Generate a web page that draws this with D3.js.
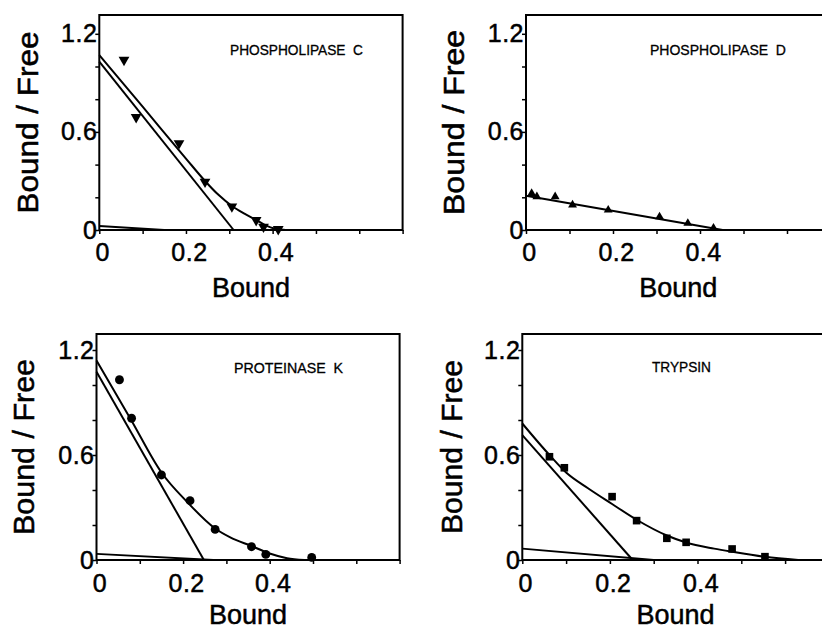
<!DOCTYPE html>
<html>
<head>
<meta charset="utf-8">
<script src="https://cdn.jsdelivr.net/npm/d3@7"></script>
<style>
  html, body { margin: 0; padding: 0; background: #fff; }
  svg { display: block; }
  text { font-family: "Liberation Sans", Arial, sans-serif; fill: #000; }
</style>
</head>
<body>
<svg id="chart" width="822" height="631"></svg>
<script>
"use strict";

// tick values shared by all four panels
const yTicks = [0, 0.2, 0.4, 0.6, 0.8, 1.0, 1.2];
const yLabels = [0, 0.6, 1.2];
const xTicks = [0, 0.1, 0.2, 0.3, 0.4, 0.5, 0.6, 0.7];
const xLabels = [0, 0.2, 0.4];
const xTitle = "Bound";
const yTitle = "Bound / Free";
const panelNames = ["PHOSPHOLIPASE  C", "PHOSPHOLIPASE  D", "PROTEINASE  K", "TRYPSIN"];

// Phospholipase C
const plcBound = [0.057, 0.085, 0.184, 0.244, 0.306, 0.362, 0.379, 0.413];
const plcRatio = [1.04, 0.69, 0.53, 0.295, 0.143, 0.06, 0.02, 0.005];
const plcCurveBound = [0, 0.1, 0.2, 0.244, 0.275, 0.306, 0.335, 0.362, 0.385, 0.41, 0.43];
const plcCurveRatio = [1.07, 0.754, 0.437, 0.3, 0.215, 0.147, 0.1, 0.062, 0.027, 0.006, 0];
const plcHighBound = [0, 0.31], plcHighRatio = [1.03, 0];
const plcLowBound = [0, 0.15], plcLowRatio = [0.025, 0];

// Phospholipase D
const pldBound = [0.013, 0.025, 0.067, 0.107, 0.189, 0.307, 0.372, 0.431];
const pldRatio = [0.224, 0.204, 0.204, 0.153, 0.122, 0.081, 0.041, 0.012];
const pldLineBound = [0, 0.452], pldLineRatio = [0.21, 0];

// Proteinase K
const pkBound = [0.053, 0.081, 0.15, 0.216, 0.274, 0.358, 0.391, 0.497];
const pkRatio = [1.03, 0.81, 0.486, 0.339, 0.175, 0.076, 0.032, 0.015];
const pkCurveBound = [0, 0.08, 0.15, 0.21, 0.274, 0.31, 0.358, 0.4, 0.44, 0.48];
const pkCurveRatio = [1.14, 0.8, 0.5, 0.33, 0.18, 0.128, 0.08, 0.037, 0.01, 0];
const pkHighBound = [0, 0.248], pkHighRatio = [1.076, 0];
const pkLowBound = [0, 0.27], pkLowRatio = [0.035, 0];

// Trypsin
const trBound = [0.062, 0.096, 0.205, 0.261, 0.33, 0.374, 0.479, 0.554];
const trRatio = [0.59, 0.527, 0.362, 0.225, 0.124, 0.101, 0.063, 0.019];
const trCurveBound = [0, 0.062, 0.1, 0.15, 0.205, 0.261, 0.33, 0.374, 0.438, 0.479, 0.554, 0.63];
const trCurveRatio = [0.78, 0.6, 0.5, 0.41, 0.32, 0.23, 0.14, 0.1, 0.065, 0.047, 0.018, 0];
const trHighBound = [0, 0.252], trHighRatio = [0.714, 0];
const trLowBound = [0, 0.3], trLowRatio = [0.065, 0];

const zip = (xs, ys) => xs.map((x, i) => [x, ys[i]]);

const panels = [
  { name: panelNames[0], marker: "down",
    points: zip(plcBound, plcRatio),
    curves: [zip(plcCurveBound, plcCurveRatio)],
    lines: [zip(plcHighBound, plcHighRatio), zip(plcLowBound, plcLowRatio)],
    xRange: [99.3, 402.6], yRange: [230, 33.8], top: 15, boxed: true,
    titleX: 230, titleY: 55, titleW: 133, yTitleX: 38, yTitleLen: 182, tickPad: 9, xTitleDy: 67 },
  { name: panelNames[1], marker: "up",
    points: zip(pldBound, pldRatio),
    curves: [],
    lines: [zip(pldLineBound, pldLineRatio)],
    xRange: [526, 830.5], yRange: [230, 33.8], top: 15, boxed: false,
    titleX: 650, titleY: 55, titleW: 136, yTitleX: 464, yTitleLen: 185, tickPad: 9, xTitleDy: 67 },
  { name: panelNames[2], marker: "circle",
    points: zip(pkBound, pkRatio),
    curves: [zip(pkCurveBound, pkCurveRatio)],
    lines: [zip(pkHighBound, pkHighRatio), zip(pkLowBound, pkLowRatio)],
    xRange: [96.5, 399.6], yRange: [560, 350], top: 334, boxed: true,
    titleX: 234, titleY: 373, titleW: 109, yTitleX: 34, yTitleLen: 176, tickPad: 10, xTitleDy: 64 },
  { name: panelNames[3], marker: "square",
    points: zip(trBound, trRatio),
    curves: [zip(trCurveBound, trCurveRatio)],
    lines: [zip(trHighBound, trHighRatio), zip(trLowBound, trLowRatio)],
    xRange: [522.3, 828.9], yRange: [560, 350], top: 334, boxed: false,
    titleX: 652, titleY: 372, titleW: 59, yTitleX: 462, yTitleLen: 174, tickPad: 10, xTitleDy: 64 }
];

const svg = d3.select("#chart");
const W = 822;

const symbols = {
  down: d3.symbol().type(d3.symbolTriangle).size(50),
  up: d3.symbol().type(d3.symbolTriangle).size(34),
  circle: d3.symbol().type(d3.symbolCircle).size(62),
  square: d3.symbol().type(d3.symbolSquare).size(58)
};

const fmt = v => v === 0 ? "0" : v.toFixed(1);

panels.forEach(p => {
  const x = d3.scaleLinear().domain([0, 0.7]).range(p.xRange);
  const y = d3.scaleLinear().domain([0, 1.2]).range(p.yRange);
  const g = svg.append("g");
  const x0 = x(0), y0 = y(0);
  const right = p.boxed ? x(0.7) : W + 5;

  // frame
  g.append("path")
    .attr("d", p.boxed
      ? `M${x0},${y0}V${p.top}H${right}V${y0}Z`
      : `M${right},${p.top}H${x0}V${y0}H${right}`)
    .attr("fill", "none")
    .attr("stroke", "#000")
    .attr("stroke-width", 2);

  // axes
  const yAxis = d3.axisLeft(y).tickValues(yTicks).tickSize(4).tickSizeOuter(0).tickPadding(-2)
    .tickFormat(v => yLabels.some(l => Math.abs(l - v) < 1e-9) ? fmt(v) : "");
  const xAxis = d3.axisBottom(x).tickValues(xTicks.filter(v => x(v) < W)).tickSize(4).tickSizeOuter(0)
    .tickPadding(p.tickPad)
    .tickFormat(v => xLabels.some(l => Math.abs(l - v) < 1e-9) ? fmt(v) : "");

  const ya = g.append("g").attr("transform", `translate(${x0},0)`).call(yAxis);
  const xa = g.append("g").attr("transform", `translate(0,${y0})`).call(xAxis);
  [ya, xa].forEach(a => {
    a.select(".domain").remove();
    a.selectAll(".tick line").attr("stroke", "#000").attr("stroke-width", 1.5);
    a.selectAll(".tick text")
      .attr("fill", "#000")
      .attr("stroke", "#000")
      .attr("stroke-width", 0.5)
      .style("font-family", "'Liberation Sans', Arial, sans-serif")
      .style("font-size", "25px")
      .style("letter-spacing", "0.5px");
  });
  xa.selectAll(".tick text").attr("dx", 3);

  // fitted lines
  const straight = d3.line().x(d => x(d[0])).y(d => y(d[1]));
  const smooth = d3.line().x(d => x(d[0])).y(d => y(d[1])).curve(d3.curveMonotoneX);

  g.selectAll(".fit")
    .data(p.lines)
    .join("path")
    .attr("class", "fit")
    .attr("d", straight)
    .attr("fill", "none")
    .attr("stroke", "#000")
    .attr("stroke-width", 2);

  g.selectAll(".curve")
    .data(p.curves)
    .join("path")
    .attr("class", "curve")
    .attr("d", smooth)
    .attr("fill", "none")
    .attr("stroke", "#000")
    .attr("stroke-width", 2);

  // data points
  g.selectAll(".pt")
    .data(p.points)
    .join("path")
    .attr("class", "pt")
    .attr("d", symbols[p.marker])
    .attr("transform", d => `translate(${x(d[0])},${y(d[1])})` + (p.marker === "down" ? " rotate(180)" : ""))
    .attr("fill", "#000");

  // panel title
  g.append("text")
    .attr("x", p.titleX)
    .attr("y", p.titleY)
    .attr("textLength", p.titleW)
    .attr("lengthAdjust", "spacingAndGlyphs")
    .attr("stroke", "#000")
    .attr("stroke-width", 0.3)
    .style("font-size", "14px")
    .style("white-space", "pre")
    .text(p.name);

  // axis titles
  g.append("text")
    .attr("x", (x0 + x(0.7)) / 2)
    .attr("y", y0 + p.xTitleDy)
    .attr("text-anchor", "middle")
    .attr("stroke", "#000")
    .attr("stroke-width", 0.5)
    .style("font-size", "27px")
    .text(xTitle);

  g.append("text")
    .attr("transform", `translate(${p.yTitleX},${(y0 + p.top) / 2}) rotate(-90)`)
    .attr("text-anchor", "middle")
    .attr("textLength", p.yTitleLen)
    .attr("lengthAdjust", "spacingAndGlyphs")
    .attr("stroke", "#000")
    .attr("stroke-width", 0.5)
    .style("font-size", "30px")
    .text(yTitle);
});
</script>
</body>
</html>
